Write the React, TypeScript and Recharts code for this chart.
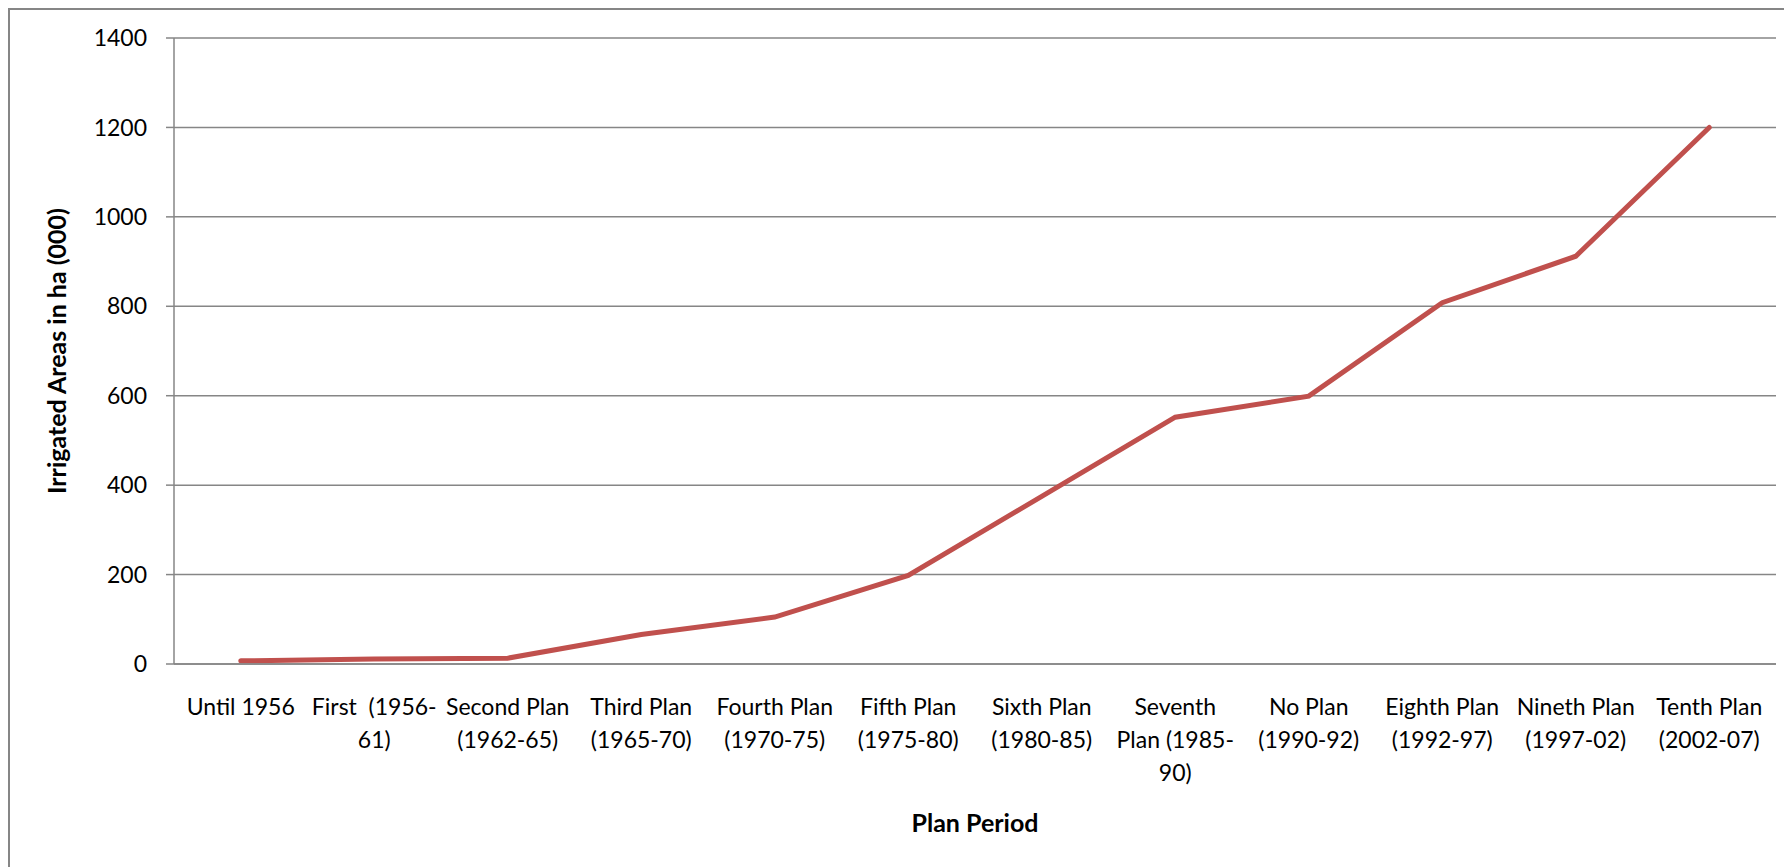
import React from "react";
import {
  LineChart,
  Line,
  XAxis,
  YAxis,
  CartesianGrid,
} from "recharts";

// plan periods, "\n" marks where the label wraps
const planPeriods = [
  "Until 1956",
  "First  (1956-\n61)",
  "Second Plan\n(1962-65)",
  "Third Plan\n(1965-70)",
  "Fourth Plan\n(1970-75)",
  "Fifth Plan\n(1975-80)",
  "Sixth Plan\n(1980-85)",
  "Seventh\nPlan (1985-\n90)",
  "No Plan\n(1990-92)",
  "Eighth Plan\n(1992-97)",
  "Nineth Plan\n(1997-02)",
  "Tenth Plan\n(2002-07)",
];

// irrigated area, thousand ha
const irrigatedArea = [7, 11, 13, 66, 105, 198, 375, 552, 599, 808, 912, 1200];

const yTicks = [0, 200, 400, 600, 800, 1000, 1200, 1400];
const edgeTicks = planPeriods.map((_, i) => i).concat(planPeriods.length);

const chartData = planPeriods.map((period, i) => ({
  period,
  area: irrigatedArea[i],
}));

const FONT = "Lato, 'Open Sans', sans-serif";
const AXIS_GRAY = "#868686";
const LINE_RED = "#C0504D";

function PlanTick({ x, y, payload }: any) {
  const lines = String(payload.value).split("\n");
  return (
    <text
      x={x}
      y={y}
      textAnchor="middle"
      fontSize={23}
      fontFamily={FONT}
      fill="#000"
      style={{ whiteSpace: "pre" }}
    >
      {lines.map((line, i) => (
        <tspan key={i} x={x} dy={i === 0 ? 50 : 33}>
          {line}
        </tspan>
      ))}
    </text>
  );
}

export default function App() {
  return (
    <div
      style={{
        position: "absolute",
        top: 8,
        left: 8,
        width: 1776,
        height: 859,
        borderTop: `2px solid ${AXIS_GRAY}`,
        borderLeft: `2px solid ${AXIS_GRAY}`,
        boxSizing: "border-box",
        background: "#fff",
      }}
    >
      <LineChart
        width={1774}
        height={857}
        data={chartData}
        margin={{ top: 28, right: 8, left: 0, bottom: 0 }}
      >
        <CartesianGrid
          vertical={false}
          stroke={AXIS_GRAY}
          strokeWidth={1.5}
          xAxisId="a"
        />
        {/* boundary ticks between categories, Excel style */}
        <XAxis
          xAxisId="a"
          type="number"
          domain={[0, planPeriods.length]}
          ticks={edgeTicks}
          allowDataOverflow
          height={1}
          tick={false}
          tickSize={8}
          axisLine={{ stroke: AXIS_GRAY, strokeWidth: 1.5 }}
          tickLine={{ stroke: AXIS_GRAY, strokeWidth: 1.5 }}
        />
        <XAxis
          xAxisId="b"
          dataKey="period"
          type="category"
          scale="band"
          height={202}
          interval={0}
          axisLine={false}
          tickLine={false}
          tickSize={0}
          tickMargin={0}
          tick={<PlanTick />}
          label={{
            content: ({ viewBox }: any) => (
              <text
                x={viewBox.x + viewBox.width / 2}
                y={viewBox.y + 158}
                dy="0.35em"
                textAnchor="middle"
                fontSize={25}
                fontWeight="bold"
                fontFamily={FONT}
                fill="#000"
              >
                Plan Period
              </text>
            ),
          }}
        />
        <YAxis
          width={164}
          domain={[0, 1400]}
          ticks={yTicks}
          interval={0}
          tickSize={8}
          tickMargin={19}
          axisLine={{ stroke: AXIS_GRAY, strokeWidth: 1.5 }}
          tickLine={{ stroke: AXIS_GRAY, strokeWidth: 1.5 }}
          tick={{ fontSize: 23, fontFamily: FONT, fill: "#000" }}
          label={{
            content: ({ viewBox }: any) => {
              const cx = viewBox.x + 47;
              const cy = viewBox.y + viewBox.height / 2;
              return (
                <text
                  x={cx}
                  y={cy}
                  dy="0.35em"
                  textAnchor="middle"
                  transform={`rotate(-90, ${cx}, ${cy})`}
                  fontSize={25}
                  fontWeight="bold"
                  fontFamily={FONT}
                  fill="#000"
                >
                  Irrigated Areas in ha (000)
                </text>
              );
            },
          }}
        />
        <Line
          xAxisId="b"
          dataKey="area"
          stroke={LINE_RED}
          strokeWidth={5}
          strokeLinecap="round"
          strokeLinejoin="miter"
          dot={false}
          activeDot={false}
          isAnimationActive={false}
        />
      </LineChart>
    </div>
  );
}
